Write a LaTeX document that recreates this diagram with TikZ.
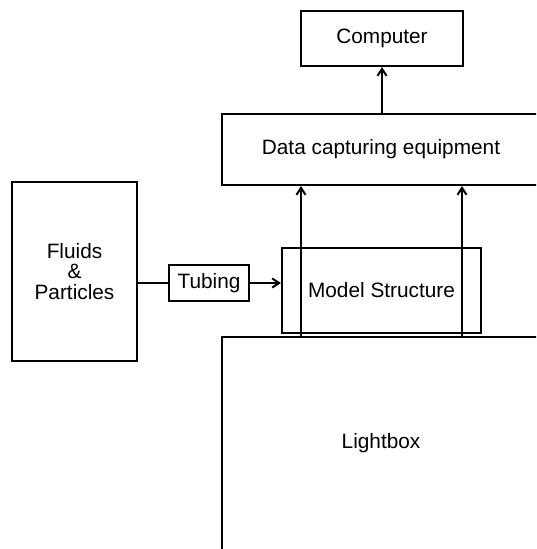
\documentclass[tikz,border=0pt]{standalone}
\usepackage{fontspec}
\setmainfont{Liberation Sans}
\usetikzlibrary{arrows.meta}
\begin{document}
\begin{tikzpicture}[x=0.5pt,y=-0.5pt,
  box/.style={draw,line width=1pt,inner sep=0pt,align=center,
    font=\fontsize{10.4}{10.3}\selectfont},
  arr/.style={line width=1pt,-{Straight Barb[length=3.5pt,width=4.5pt]}},
  plain/.style={line width=1pt}]
\useasboundingbox (0,0) rectangle (536,549);
\fill[white] (0,0) rectangle (536,549);
\clip (0,0) rectangle (536,549);
% boxes
\node[box,minimum width=81pt,minimum height=27.5pt] (comp) at (382,38.5) {Computer};
\node[box,minimum width=159pt,minimum height=35.5pt] (dce) at (381,149.5) {Data capturing equipment};
\node[box,minimum width=62.5pt,minimum height=89.5pt] (fp) at (74.5,271.5) {Fluids\\\&\\Particles};
\node[box,minimum width=40pt,minimum height=18pt] (tub) at (209,283) {Tubing};
\node[box,minimum width=159pt,minimum height=107.5pt] (lb) at (381,444.5) {};
\node[font=\fontsize{10.4}{10.3}\selectfont] (lbt) at (381,443) {Lightbox};
\node[box,minimum width=99.5pt,minimum height=42.5pt] (ms) at (381.5,290.5) {Model Structure};
% feed line
\draw[plain] (fp.east |- tub.west) -- (tub.west);
\draw[arr] (tub.east) -- (tub.east -| ms.west);
% light paths up to the capture equipment
\coordinate (s1) at (301,337);
\coordinate (s2) at (462,337);
\draw[arr] (s1) -- (s1 |- dce.south);
\draw[arr] (s2) -- (s2 |- dce.south);
% data to computer
\draw[arr] (comp.south |- dce.north) -- (comp.south);
\end{tikzpicture}
\end{document}
